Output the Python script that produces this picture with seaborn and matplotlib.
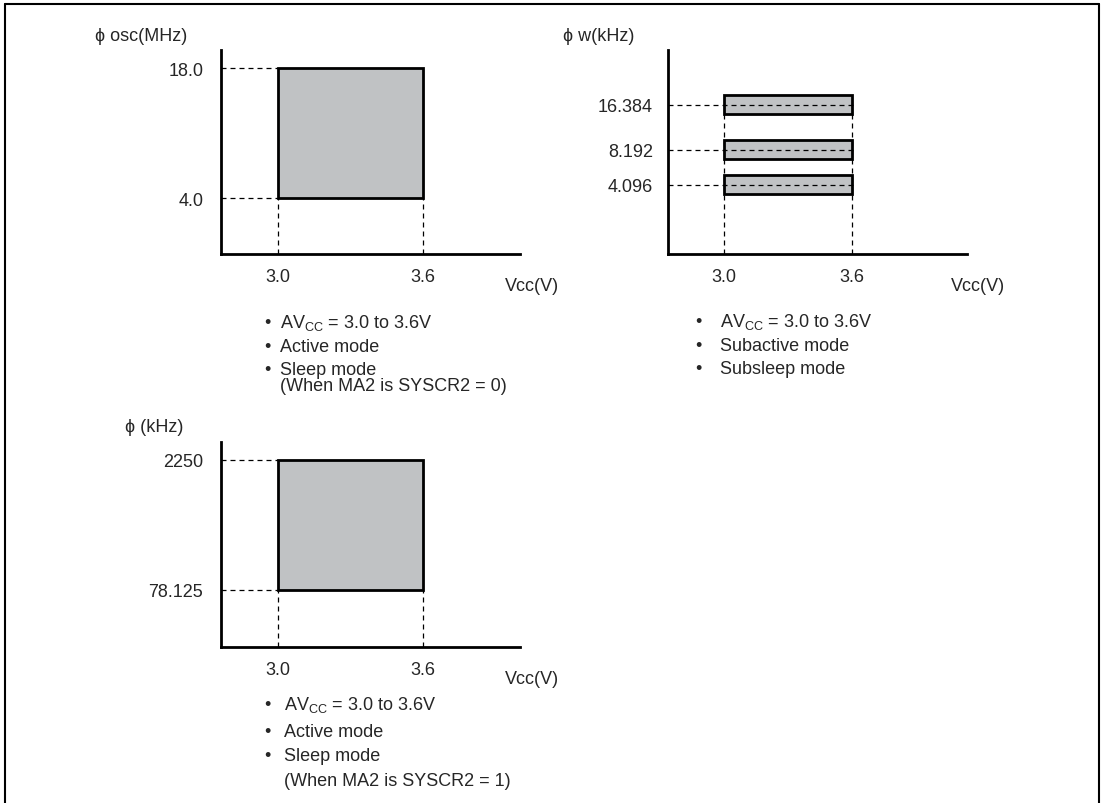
import matplotlib.pyplot as plt
import numpy as np
import seaborn as sns
from matplotlib.lines import Line2D

sns.set_style('white')
plt.rcParams['font.family'] = ['Liberation Sans', 'DejaVu Sans']
plt.rcParams['font.size'] = 13
plt.rcParams['mathtext.fontset'] = 'custom'
plt.rcParams['mathtext.rm'] = 'Liberation Sans'
plt.rcParams['mathtext.it'] = 'Liberation Sans'

# operating ranges
vcc_min, vcc_max = 3.0, 3.6
osc_range = [4.0, 18.0]          # phi osc (MHz)
w_freqs = [4.096, 8.192, 16.384]  # phi w (kHz)
sys_range = [78.125, 2250]        # phi (kHz)
osc_labels = ['4.0', '18.0']
w_labels = ['4.096', '8.192', '16.384']
sys_labels = ['78.125', '2250']
x_labels = ['3.0', '3.6']

notes1 = ['AV$_{\\rm CC}$ = 3.0 to 3.6V', 'Active mode', 'Sleep mode']
notes2 = ['AV$_{\\rm CC}$ = 3.0 to 3.6V', 'Subactive mode', 'Subsleep mode']
notes3 = ['AV$_{\\rm CC}$ = 3.0 to 3.6V', 'Active mode', 'Sleep mode']

W, H = 1103, 804
fill = '#c0c2c4'
dash = (0, (4.0, 3.2))
dash_lw = 0.9

fig = plt.figure(figsize=(W / 100, H / 100), dpi=100)


def px_axes(left, right, top, bottom):
    return fig.add_axes([left / W, 1 - bottom / H, (right - left) / W, (bottom - top) / H])


def ftext(x, y, s, **kw):
    fig.text(x / W, 1 - y / H, s, va='baseline', **kw)


def style(ax, ypad):
    sns.despine(ax=ax)
    for side in ['left', 'bottom']:
        ax.spines[side].set_linewidth(2.0)
        ax.spines[side].set_color('black')
    ax.tick_params(length=0)
    ax.tick_params(axis='y', pad=ypad)
    ax.tick_params(axis='x', pad=10)
    ax.set_xticks([vcc_min, vcc_max], x_labels)
    ax.annotate('Vcc(V)', xy=(1, 0), xycoords='axes fraction', xytext=(8.4, -26),
                textcoords='offset points', ha='center', va='baseline')


def box_panel(ax, yr, labels, ylim):
    ax.set_xlim(2.766, 4.0)
    ax.set_ylim(*ylim)
    ax.bar(vcc_min, yr[1] - yr[0], bottom=yr[0], width=vcc_max - vcc_min, align='edge',
           color=fill, edgecolor='black', linewidth=2.0, zorder=3)
    ax.hlines(yr, 2.766, vcc_min, colors='black', linewidth=dash_lw, linestyles=dash)
    ax.vlines([vcc_min, vcc_max], ylim[0], yr[0], colors='black', linewidth=dash_lw, linestyles=dash)
    ax.set_yticks(yr, labels)
    style(ax, 12.7)


# panel 1: phi osc
ax1 = px_axes(221, 520, 50.7, 255)
box_panel(ax1, osc_range, osc_labels, (-2, 20))

# panel 3: phi
ax3 = px_axes(221, 520, 442.7, 647.7)
box_panel(ax3, sys_range, sys_labels, (-874, 2551))

# panel 2: phi w, schematic spacing via power scale
p = 0.36
fwd = lambda y: np.power(np.clip(y, 0, None), p)
inv = lambda y: np.power(np.clip(y, 0, None), 1 / p)
ax2 = px_axes(668.3, 966.7, 50.7, 255)
ax2.set_yscale('function', functions=(fwd, inv))
ax2.set_xlim(2.737, 4.139)
ax2.set_ylim(0.416, 31.85)
half = 0.128
for f in w_freqs:
    lo, hi = inv(fwd(f) - half), inv(fwd(f) + half)
    ax2.bar(vcc_min, hi - lo, bottom=lo, width=vcc_max - vcc_min, align='edge',
            color=fill, edgecolor='black', linewidth=2.0, zorder=3)
ax2.hlines(w_freqs, 2.737, 3.619, colors='black', linewidth=dash_lw, linestyles=dash, zorder=4)
top_lo = inv(fwd(max(w_freqs)) - half)
ax2.vlines([vcc_min, vcc_max], 0.416, top_lo, colors='black', linewidth=dash_lw, linestyles=dash, zorder=2)
ax2.set_yticks(w_freqs, w_labels)
ax2.minorticks_off()
style(ax2, 11)

# axis titles
ftext(95, 40.7, '\u03d5 osc(MHz)')
ftext(563, 40.7, '\u03d5 w(kHz)')
ftext(125, 432, '\u03d5 (kHz)')

# notes
for y, s in zip([328.3, 351.7, 375], notes1):
    ftext(267, y, '\u2022', ha='center')
    ftext(280, y, s)
ftext(280, 391, '(When MA2 is SYSCR2 = 0)')

for y, s in zip([327.5, 351.5, 374.5], notes2):
    ftext(698, y, '\u2022', ha='center')
    ftext(720, y, s)

for y, s in zip([710, 736.7, 760.7], notes3):
    ftext(267, y, '\u2022', ha='center')
    ftext(284, y, s)
ftext(284, 786, '(When MA2 is SYSCR2 = 1)')

# page frame
for xs, ys in [([5, 5], [5, 820]), ([5, 1098.5], [5, 5]), ([1098.5, 1098.5], [5, 820])]:
    fig.add_artist(Line2D([x / W for x in xs], [1 - y / H for y in ys], color='black', linewidth=1.5))

fig.savefig('out.png', dpi=100)
